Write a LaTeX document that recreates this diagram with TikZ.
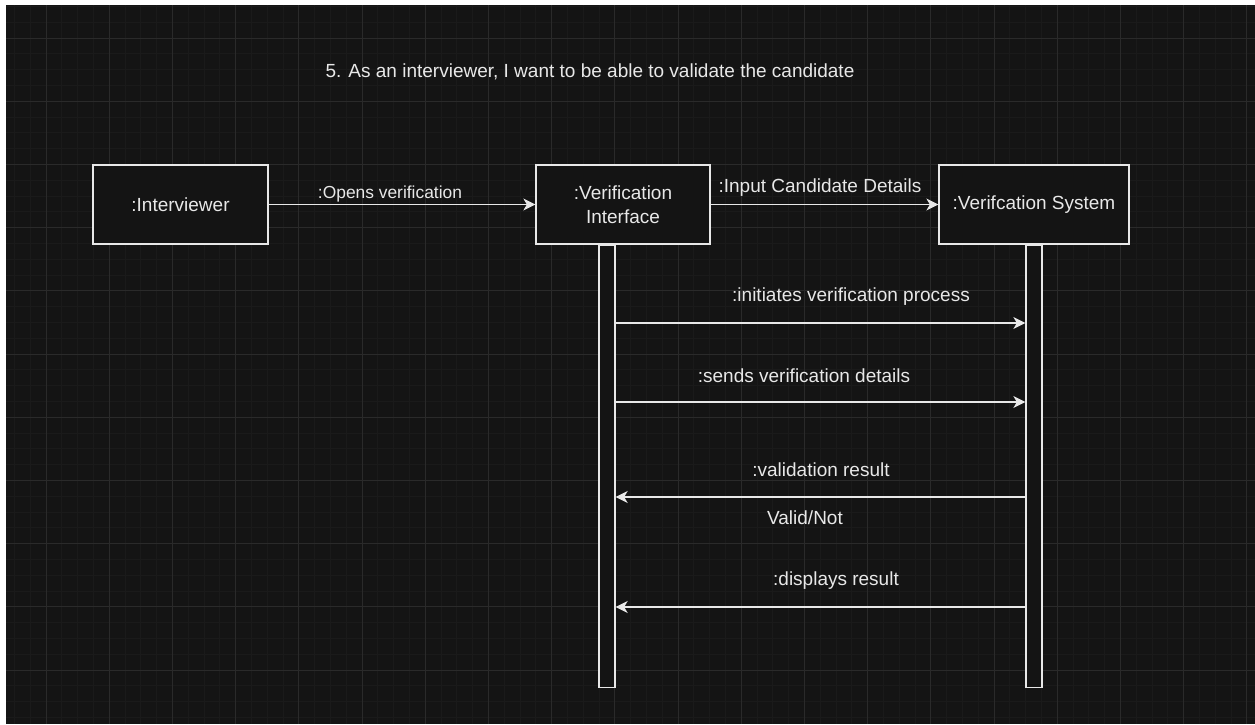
\documentclass[tikz,border=0pt]{standalone}
\usepackage{fontspec}
\setmainfont{Liberation Sans}
\usetikzlibrary{arrows.meta}
\definecolor{bg}{RGB}{20,20,20}
\definecolor{gmin}{RGB}{26,26,26}
\definecolor{gmaj}{RGB}{42,42,42}
\definecolor{fg}{RGB}{232,232,232}
\tikzset{
  box/.style={draw=fg, fill=bg, line width=1.3pt, text=fg, align=center,
    font=\fontsize{19}{22}\selectfont, inner sep=0pt},
  bar/.style={draw=fg, fill=bg, line width=1.3pt, inner sep=0pt, minimum width=16pt},
  lbl/.style={text=fg, font=\fontsize{19}{22}\selectfont, inner sep=0pt},
  elbl/.style={text=fg, font=\fontsize{17.4}{20}\selectfont, inner sep=0pt},
  msg/.style={draw=fg, line width=1.3pt, -{Stealth[length=12pt,width=12pt,inset=3.5pt]}},
  minorg/.style={draw=gmin, line width=0.8pt},
  majorg/.style={draw=gmaj, line width=1pt}
}
\begin{document}
\begin{tikzpicture}[x=1pt,y=-1pt]
\useasboundingbox (0,0) rectangle (1255,724);
\fill[white] (0,0) rectangle (1255,724);
\fill[bg] (6,5) rectangle (1255,724);
\begin{scope}
\clip (6,5) rectangle (1255,724);
\foreach \i in {-3,...,80} \draw[minorg] ({46+15.8*\i},5) -- ({46+15.8*\i},724);
\foreach \j in {-3,...,45} \draw[minorg] (6,{38+15.8*\j}) -- (1255,{38+15.8*\j});
\foreach \i in {-1,...,20} \draw[majorg] ({46+63.2*\i},5) -- ({46+63.2*\i},724);
\foreach \j in {-1,...,11} \draw[majorg] (6,{38+63.2*\j}) -- (1255,{38+63.2*\j});
\end{scope}

\node[lbl] (title) at (590,71.5) {5. As an interviewer, I want to be able to validate the candidate};

\node[box, minimum width=175pt, minimum height=79pt] (int) at (180.5,204.5) {:Interviewer};
\node[box, minimum width=174pt, minimum height=79pt] (ifc) at (623,204.5) {:Verification\\[2pt]Interface};
\node[box, minimum width=190pt, minimum height=79pt] (sys) at (1034,204.5) {:Verifcation System};

\node[bar, minimum height=442pt, anchor=north] (ibar) at ([xshift=-16pt]ifc.south) {};
\node[bar, minimum height=442pt, anchor=north] (sbar) at (sys.south) {};

\draw[msg] (int) -- (ifc);
\node[elbl] (l1) at (390,194) {:Opens verification};
\draw[msg] (ifc) -- (sys);
\node[lbl] (l2) at (820,188) {:Input Candidate Details};

\coordinate (y1) at (0,323);
\coordinate (y2) at (0,402);
\coordinate (y3) at (0,497);
\coordinate (y4) at (0,607);
\draw[msg] (ibar.east |- y1) -- (sbar.west |- y1);
\node[lbl] (l3) at (851,297) {:initiates verification process};
\draw[msg] (ibar.east |- y2) -- (sbar.west |- y2);
\node[lbl] (l4) at (804,376) {:sends verification details};
\draw[msg] (sbar.west |- y3) -- (ibar.east |- y3);
\node[lbl] (l5) at (821,470) {:validation result};
\node[lbl] (l6) at (805,518) {Valid/Not};
\draw[msg] (sbar.west |- y4) -- (ibar.east |- y4);
\node[lbl] (l7) at (836,581) {:displays result};
\end{tikzpicture}
\end{document}
